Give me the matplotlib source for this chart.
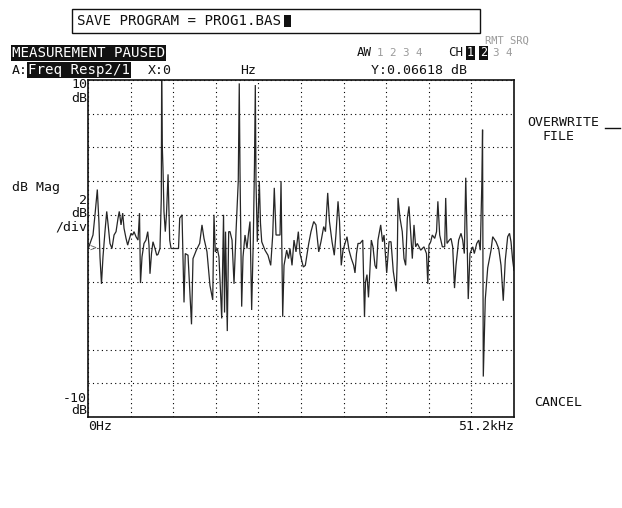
import matplotlib
matplotlib.use('Agg')
import matplotlib.pyplot as plt
from matplotlib.patches import Rectangle

# ---- data (frequency in kHz, magnitude in dB) ----
freq_khz = [0.10, 0.60, 0.84, 1.12, 1.32, 1.44, 1.62, 1.80, 2.04, 2.25, 2.40, 2.64, 2.88,
            3.13, 3.37, 3.61, 3.76, 3.97, 4.17, 4.33, 4.57, 4.77, 4.93, 5.17, 5.37, 5.53,
            5.77, 6.01, 6.19, 6.31, 6.49, 6.73, 6.97, 7.18, 7.33, 7.45, 7.63, 7.81, 8.05,
            8.26, 8.41, 8.65, 8.81, 8.85, 8.92, 9.01, 9.13, 9.29, 9.43, 9.62, 9.82, 9.98,
            10.10, 10.88, 11.02, 11.30, 11.54, 11.69, 12.02, 12.44, 12.62, 13.02, 13.42,
            13.70, 13.94, 14.30, 14.66, 14.99, 15.14, 15.30, 15.54, 15.74, 16.07, 16.29,
            16.41, 16.53, 16.74, 16.91, 17.07, 17.31, 17.55, 17.79, 18.06, 18.18, 18.27,
            18.47, 18.63, 18.87, 19.11, 19.29, 19.47, 19.67, 19.87, 20.01, 20.11, 20.19,
            20.35, 20.59, 20.73, 20.88, 21.27, 21.63, 21.96, 22.20, 22.39, 22.60, 22.84,
            23.08, 23.20, 23.40, 23.56, 23.88, 24.10, 24.28, 24.52, 24.76, 25.00, 25.28,
            25.48, 25.88, 26.12, 26.53, 26.80, 27.13, 27.40, 27.73, 28.00, 28.33, 28.54,
            28.81, 29.02, 29.33, 29.60, 29.81, 30.05, 30.23, 30.44, 30.65, 30.89, 31.13,
            31.37, 31.65, 31.93, 32.09, 32.27, 32.45, 32.69, 33.02, 33.23, 33.35, 33.53,
            33.71, 33.89, 34.05, 34.25, 34.49, 34.67, 34.85, 35.18, 35.40, 35.58, 35.90,
            36.18, 36.42, 36.69, 37.05, 37.17, 37.26, 37.50, 37.77, 37.98, 38.18, 38.38,
            38.58, 38.78, 38.98, 39.18, 39.38, 39.58, 39.99, 40.38, 40.68, 40.84, 40.98,
            41.19, 41.38, 41.67, 41.89, 42.05, 42.27, 42.59, 42.87, 42.99, 43.15, 43.43,
            43.63, 43.83, 44.05, 44.23, 44.55, 44.83, 45.03, 45.23, 45.40, 45.55, 45.70,
            45.91, 46.24, 46.43, 46.72, 46.96, 47.15, 47.33, 47.42, 47.51, 47.75, 48.04,
            48.44, 48.64, 49.04, 49.36, 49.64, 49.91, 50.15, 50.44, 50.66, 50.84, 51.04,
            51.20]
mag_db = [0.1, 0.8, 2.0, 3.5, 1.5, -0.5, -2.1, -0.5, 1.0, 2.2, 1.5, 0.3, 0.0,
          0.8, 1.0, 1.8, 2.2, 1.4, 2.1, 1.2, 0.6, 0.2, 0.5, 0.9, 0.8, 1.0,
          0.7, 0.5, 2.1, -2.05, -0.5, 0.3, 0.5, 1.0, 0.2, -1.5, -0.3, 0.4, 0.0,
          -0.4, -0.35, 0.0, 3.0, 10.0, 6.2, 4.8, 2.2, 1.0, 2.0, 4.4, 0.5, 0.0,
          0.0, 0.0, 1.8, 2.0, -3.2, -0.3, -0.4, -4.5, -0.6, -0.1, 0.3,
          1.4, 0.6, -0.2, -2.2, -3.05, 2.0, -0.2, 0.0, -0.5, -4.15, 2.0,
          -3.8, 1.0, -4.9, 1.0, 1.0, 0.5, -2.1, 1.0, 4.0, 9.8, 4.5,
          -3.45, -0.5, 0.8, 0.0, 0.9, 1.6, -3.65, 0.6, 5.0, 9.7, 4.0,
          0.4, 4.0, 1.5, 0.4, -0.1, -0.4, -1.0, 0.8, 3.6, 0.8, 0.8,
          0.8, 4.0, -4.05, -1.0, -0.1, -0.6, 0.0, -1.0, 0.5, -0.2, 1.0,
          -0.3, -1.1, -1.0, 0.3, 1.0, 1.6, 1.4, -0.2, 0.4, 1.3, 1.0,
          3.3, 1.6, 0.4, -0.4, 0.9, 2.8, 1.6, -1.0, -0.1, 0.3, 0.7,
          -0.1, -0.6, -1.0, -1.45, -0.3, 0.3, 0.3, 0.5, -4.05, -2.0, -1.55,
          -2.9, -1.2, 0.5, 0.1, -1.0, -1.2, 0.5, 1.4, 0.4, 0.8, -1.45,
          0.4, 0.4, -1.35, -2.55, -0.6, 3.0, 1.8, 1.0, -0.6, -1.0, 1.8,
          2.5, 1.0, -0.6, 1.4, 0.1, 0.3, -0.1, 0.1, -0.3, -2.1, 0.2,
          0.4, 0.8, 0.6, 1.0, 2.8, 0.8, 0.1, 0.1, 3.0, 0.3, 0.5,
          0.6, 0.1, -2.35, -1.0, 0.5, 0.9, 0.5, -0.3, 4.2, 0.9, -3.0,
          -0.3, 0.1, -0.3, 0.3, 0.5, -0.1, 3.8, 7.05, -7.6, -3.0, -1.15,
          -0.1, 0.7, 0.4, 0.0, -1.0, -3.1, -0.7, 0.7, 0.9, 0.4, -0.7,
          -1.3]

x_start_label = "0Hz"
x_stop_label = "51.2kHz"
y_top_label = "10"
y_bottom_label = "-10"
y_scale_label = "2"
x_span_khz = 51.2
y_min_db, y_max_db = -10, 10

# ---- figure ----
W, H = 622, 508
fig = plt.figure(figsize=(W / 100, H / 100), dpi=100)
fig.patch.set_facecolor('white')

ax = fig.add_axes([88 / W, 1 - 417 / H, 426 / W, 337 / H])
ax.plot(freq_khz, mag_db, color='#262626', lw=0.9, solid_joinstyle='miter')
ax.set_xlim(0, x_span_khz)
ax.set_ylim(y_min_db, y_max_db)
ax.set_xticks([x_span_khz * i / 10 for i in range(11)])
ax.set_yticks(list(range(y_min_db, y_max_db + 1, 2)))
ax.tick_params(length=0, labelbottom=False, labelleft=False)
ax.grid(True, color='black', linestyle=(0, (1, 3)), lw=0.8)
for s in ax.spines.values():
    s.set_linewidth(1.2)
    s.set_color('#111111')

MONO = 'DejaVu Sans Mono'
FS = 9.5


def t(x, y, s, ha='left', color='#111111', fs=FS, **kw):
    return fig.text(x / W, 1 - y / H, s, fontfamily=MONO, fontsize=fs,
                    ha=ha, va='center', color=color, **kw)


# entry box
fig.add_artist(Rectangle((72 / W, 1 - 33 / H), (480 - 72) / W, 24 / H,
                         transform=fig.transFigure, fill=False,
                         edgecolor='#111111', lw=1.0))
t(77, 21, "SAVE PROGRAM = PROG1.BAS", fs=10.2)
fig.add_artist(Rectangle((284 / W, 1 - 27 / H), 7 / W, 12 / H,
                         transform=fig.transFigure, facecolor='#111111',
                         edgecolor='none'))

# status lines
t(485, 41, "RMT SRQ", color='#9a9a9a', fs=7.5)
t(12, 53, "MEASUREMENT PAUSED", color='white', fs=10.2,
  bbox=dict(facecolor='#111111', edgecolor='none', pad=0.6))
t(357, 53, "AW", fs=9)
t(377, 53, "1 2 3 4", color='#9a9a9a', fs=7.8)
t(448, 53, "CH", fs=9)
t(467, 53, "1", color='white', fs=8.5,
  bbox=dict(facecolor='#111111', edgecolor='none', pad=0.4))
t(480, 53, "2", color='white', fs=8.5,
  bbox=dict(facecolor='#111111', edgecolor='none', pad=0.4))
t(493, 53, "3 4", color='#9a9a9a', fs=7.8)

t(12, 70, "A:")
t(28, 70, "Freq Resp2/1", color='white', fs=10.2,
  bbox=dict(facecolor='#111111', edgecolor='none', pad=0.6))
t(148, 70, "X:0")
t(240, 70, "Hz")
t(371, 70, "Y:0.06618 dB")

# axis annotations
t(87, 85, y_top_label, ha='right')
t(87, 98, "dB", ha='right')
t(12, 188, "dB Mag")
t(87, 201, y_scale_label, ha='right')
t(87, 214, "dB", ha='right')
t(87, 227, "/div", ha='right')
t(87, 398, y_bottom_label, ha='right')
t(87, 411, "dB", ha='right')
t(88, 426, x_start_label)
t(514, 426, x_stop_label, ha='right')

# reference level marker
ax.annotate('>', xy=(0, 0), xycoords=('axes fraction', 'data'),
            xytext=(1, 0), textcoords='offset points', ha='left', va='center',
            fontsize=8, color='#666666', fontfamily=MONO, zorder=5)

# softkeys
t(527, 123, "OVERWRITE")
fig.add_artist(plt.Line2D([605 / W, 620 / W], [1 - 128 / H, 1 - 128 / H],
                          transform=fig.transFigure, color='#111111', lw=1.0))
t(543, 136, "FILE")
t(534, 403, "CANCEL")

fig.savefig('out.png', dpi=100, facecolor='white')
